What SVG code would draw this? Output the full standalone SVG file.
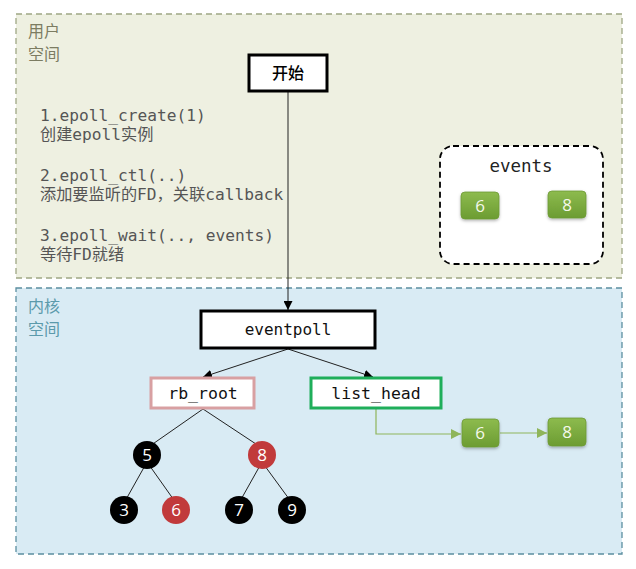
<svg xmlns="http://www.w3.org/2000/svg" width="636" height="569" viewBox="0 0 636 569">
<style>
.mono{font-family:"DejaVu Sans Mono","Liberation Mono","Noto Sans CJK SC",monospace;}
.cap{font-family:"Noto Sans CJK SC","Noto Sans",sans-serif;font-size:16px;}
.step{font-size:16.2px;fill:#555;}
.box{fill:#fff;stroke:#000;stroke-width:3;}
.gbox{fill:url(#gg);stroke:#6d9a35;stroke-width:0.8;filter:url(#sh);}
.gtxt{font-family:"Open Sans","Noto Sans",sans-serif;font-size:17px;fill:#f4f8ea;text-anchor:middle;}
.ntxt{font-family:"Open Sans","Noto Sans",sans-serif;font-size:17px;fill:#fff;text-anchor:middle;}
.blk{fill:#000;}
.red{fill:#c13a3b;}
.edge{stroke:#222;stroke-width:1;fill:none;}
.gedge{stroke:#8fb55a;stroke-width:1.2;fill:none;}
</style>
<defs>
<linearGradient id="gg" x1="0" y1="0" x2="0" y2="1">
<stop offset="0" stop-color="#8dbb4e"/>
<stop offset="1" stop-color="#6c9c32"/>
</linearGradient>
<filter id="sh" x="-20%" y="-20%" width="140%" height="150%">
<feDropShadow dx="0" dy="1.5" stdDeviation="1.5" flood-color="#000" flood-opacity="0.3"/>
</filter>
<marker id="ah" viewBox="0 0 10 10" refX="10" refY="5" markerWidth="9" markerHeight="9" markerUnits="userSpaceOnUse" orient="auto">
<path d="M0,0 L10,5 L0,10 z" fill="#000"/>
</marker>
<marker id="gah" viewBox="0 0 10 10" refX="10" refY="5" markerWidth="10" markerHeight="10" markerUnits="userSpaceOnUse" orient="auto">
<path d="M0,0 L10,5 L0,10 z" fill="#8fb55a"/>
</marker>
</defs>
<rect width="636" height="569" fill="#fff"/>
<g id="user-space">
<rect x="16" y="14" width="606" height="264" fill="#eef0e1" stroke="#9fa784" stroke-width="1.3" stroke-dasharray="6,4"/>
<text class="cap" x="28" y="36.5" fill="#7c7c62">用户</text>
<text class="cap" x="28" y="60" fill="#7c7c62">空间</text>
</g>
<g id="kernel-space">
<rect x="16" y="288" width="606" height="266" fill="#d9ebf4" stroke="#5b8fa0" stroke-width="1.3" stroke-dasharray="6,4"/>
<text class="cap" x="28" y="311.5" fill="#5b9aab">内核</text>
<text class="cap" x="28" y="335" fill="#5b9aab">空间</text>
</g>
<g id="steps" class="mono step">
<text x="40" y="121">1.epoll_create(1)</text>
<text x="40" y="140">创建epoll实例</text>
<text x="40" y="181">2.epoll_ctl(..)</text>
<text x="40" y="200">添加要监听的FD，关联callback</text>
<text x="40" y="241">3.epoll_wait(.., events)</text>
<text x="40" y="260">等待FD就绪</text>
</g>
<g id="connectors">
<line class="edge" x1="288" y1="92" x2="288" y2="310" marker-end="url(#ah)"/>
<line class="edge" x1="288" y1="349" x2="203" y2="377" marker-end="url(#ah)"/>
<line class="edge" x1="288" y1="349" x2="373" y2="377" marker-end="url(#ah)"/>
<line class="edge" x1="203" y1="409" x2="147" y2="448"/>
<line class="edge" x1="203" y1="409" x2="262" y2="448"/>
<line class="edge" x1="147" y1="462" x2="124" y2="503"/>
<line class="edge" x1="147" y1="462" x2="176" y2="503"/>
<line class="edge" x1="262" y1="462" x2="239" y2="503"/>
<line class="edge" x1="262" y1="462" x2="292" y2="503"/>
<polyline class="gedge" points="376,409 376,434 461,434" marker-end="url(#gah)"/>
<line class="gedge" x1="500" y1="433" x2="547" y2="433" marker-end="url(#gah)"/>
</g>
<g id="start">
<rect class="box" x="249" y="55" width="78" height="36"/>
<text x="288" y="79" text-anchor="middle" style="font-family:'Noto Sans CJK SC',sans-serif;font-size:16px;font-weight:500;">开始</text>
</g>
<g id="events">
<rect x="440" y="146" width="163" height="118" rx="13" fill="#fff" stroke="#000" stroke-width="1.8" stroke-dasharray="6,4"/>
<text class="mono" x="521" y="172" text-anchor="middle" style="font-size:17.5px;fill:#222;">events</text>
</g>
<g id="events-6">
<rect class="gbox" x="461" y="192" width="38" height="27" rx="4"/>
<text class="gtxt" x="480" y="212">6</text>
</g>
<g id="events-8">
<rect class="gbox" x="548" y="191" width="38" height="27" rx="4"/>
<text class="gtxt" x="567" y="211">8</text>
</g>
<g id="eventpoll">
<rect class="box" x="201" y="311" width="174" height="37"/>
<text class="mono" x="288" y="335" text-anchor="middle" style="font-size:16px;fill:#111;">eventpoll</text>
</g>
<g id="rb_root">
<rect x="151" y="378" width="103" height="30" fill="#fff" stroke="#d8a0a2" stroke-width="3"/>
<text class="mono" x="203" y="399" text-anchor="middle" style="font-size:16.5px;fill:#111;">rb_root</text>
</g>
<g id="list_head">
<rect x="311" y="378" width="130" height="30" fill="#fff" stroke="#1fae5a" stroke-width="3"/>
<text class="mono" x="376" y="399" text-anchor="middle" style="font-size:16.5px;fill:#111;">list_head</text>
</g>
<g id="list-6">
<rect class="gbox" x="462" y="419" width="37" height="28" rx="4"/>
<text class="gtxt" x="480" y="439">6</text>
</g>
<g id="list-8">
<rect class="gbox" x="548" y="418" width="38" height="28" rx="4"/>
<text class="gtxt" x="567" y="438">8</text>
</g>
<g id="node-5"><circle class="blk" cx="147" cy="455" r="14"/><text class="ntxt" x="147" y="461">5</text></g>
<g id="node-8"><circle class="red" cx="262" cy="455" r="14"/><text class="ntxt" x="262" y="461">8</text></g>
<g id="node-3"><circle class="blk" cx="124" cy="510" r="14"/><text class="ntxt" x="124" y="516">3</text></g>
<g id="node-6"><circle class="red" cx="176" cy="510" r="14"/><text class="ntxt" x="176" y="516">6</text></g>
<g id="node-7"><circle class="blk" cx="239" cy="510" r="14"/><text class="ntxt" x="239" y="516">7</text></g>
<g id="node-9"><circle class="blk" cx="292" cy="510" r="14"/><text class="ntxt" x="292" y="516">9</text></g>
</svg>
